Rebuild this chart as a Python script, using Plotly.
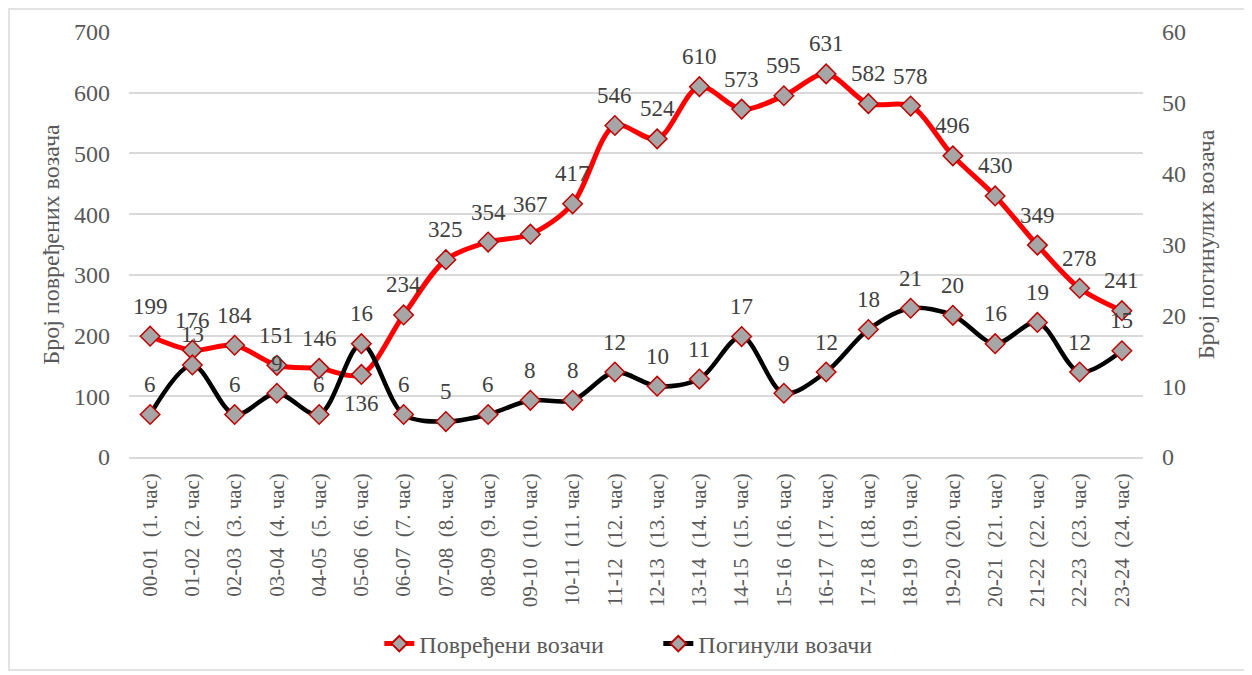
import plotly.graph_objects as go

hours = ["00-01", "01-02", "02-03", "03-04", "04-05", "05-06", "06-07", "07-08",
         "08-09", "09-10", "10-11", "11-12", "12-13", "13-14", "14-15", "15-16",
         "16-17", "17-18", "18-19", "19-20", "20-21", "21-22", "22-23", "23-24"]
hour_no = ["1. час", "2. час", "3. час", "4. час", "5. час", "6. час", "7. час", "8. час",
           "9. час", "10. час", "11. час", "12. час", "13. час", "14. час", "15. час", "16. час",
           "17. час", "18. час", "19. час", "20. час", "21. час", "22. час", "23. час", "24. час"]
categories = [f"{h}\u00a0\u00a0({n})" for h, n in zip(hours, hour_no)]

injured = [199, 176, 184, 151, 146, 136, 234, 325, 354, 367, 417, 546,
           524, 610, 573, 595, 631, 582, 578, 496, 430, 349, 278, 241]
killed = [6, 13, 6, 9, 6, 16, 6, 5, 6, 8, 8, 12,
          10, 11, 17, 9, 12, 18, 21, 20, 16, 19, 12, 15]

name_injured = "Повређени возачи"
name_killed = "Погинули возачи"
title_left = "Број повређених возача"
title_right = "Број погинулих возача"

FONT = "Liberation Serif, Times New Roman, serif"
AX = "#595959"
LBL = "#404040"

marker = dict(symbol="diamond", size=15, color="#a6a6a6",
              line=dict(color="#c00000", width=1.5))

fig = go.Figure()
fig.add_trace(go.Scatter(x=categories, y=injured, name=name_injured, mode="lines+markers",
                         line=dict(color="#ff0000", width=5, shape="spline", smoothing=0.9),
                         marker=marker, yaxis="y"))
fig.add_trace(go.Scatter(x=categories, y=killed, name=name_killed, mode="lines+markers",
                         line=dict(color="#000000", width=4.5, shape="spline", smoothing=0.9),
                         marker=marker, yaxis="y2"))

annotations = []
for c, v in zip(categories, injured):
    shift = -29 if v == 136 else 30
    annotations.append(dict(x=c, y=v, xref="x", yref="y", text=str(v), showarrow=False,
                            yshift=shift, font=dict(family=FONT, size=23, color=LBL)))
for c, v in zip(categories, killed):
    annotations.append(dict(x=c, y=v, xref="x", yref="y2", text=str(v), showarrow=False,
                            yshift=30, font=dict(family=FONT, size=23, color=LBL)))

# page is offset 8px by the body margin; margins compensate
fig.update_layout(
    width=1252, height=675,
    margin=dict(l=121, r=117, t=24, b=226, autoexpand=False),
    paper_bgcolor="white", plot_bgcolor="white",
    font=dict(family=FONT, size=24, color=AX),
    showlegend=True,
    legend=dict(orientation="h", x=0.522, xanchor="center", y=-0.44, yanchor="middle",
                font=dict(family=FONT, size=24, color=AX), itemsizing="constant",
                entrywidth=234, entrywidthmode="pixels"),
    xaxis=dict(type="category", range=[-0.5, len(categories) - 0.5], tickangle=-90,
               showgrid=False, showline=True, automargin=False,
               linecolor="#d9d9d9", linewidth=1.5, ticks="",
               tickfont=dict(family=FONT, size=21, color=AX),
               ticklabelstandoff=6),
    yaxis=dict(range=[0, 700], dtick=100, showgrid=True, gridcolor="#d9d9d9", gridwidth=1.5,
               zeroline=False, showline=False, ticks="", automargin=False,
               tickfont=dict(family=FONT, size=24, color=AX),
               ticklabelstandoff=18,
               title=dict(text=title_left, font=dict(family=FONT, size=24, color=AX), standoff=7)),
    yaxis2=dict(range=[0, 60], dtick=10, overlaying="y", side="right", showgrid=False,
                zeroline=False, showline=False, ticks="", automargin=False,
                tickfont=dict(family=FONT, size=24, color=AX),
                ticklabelstandoff=18,
                title=dict(text=title_right, font=dict(family=FONT, size=24, color=AX), standoff=12)),
    annotations=annotations,
    shapes=[dict(type="rect", xref="paper", yref="paper", x0=-0.1183, x1=1.1006,
                 y0=-0.501, y1=1.054, line=dict(color="#d9d9d9", width=1.5),
                 fillcolor="rgba(0,0,0,0)", layer="below")],
)

fig.write_html("out.html")
